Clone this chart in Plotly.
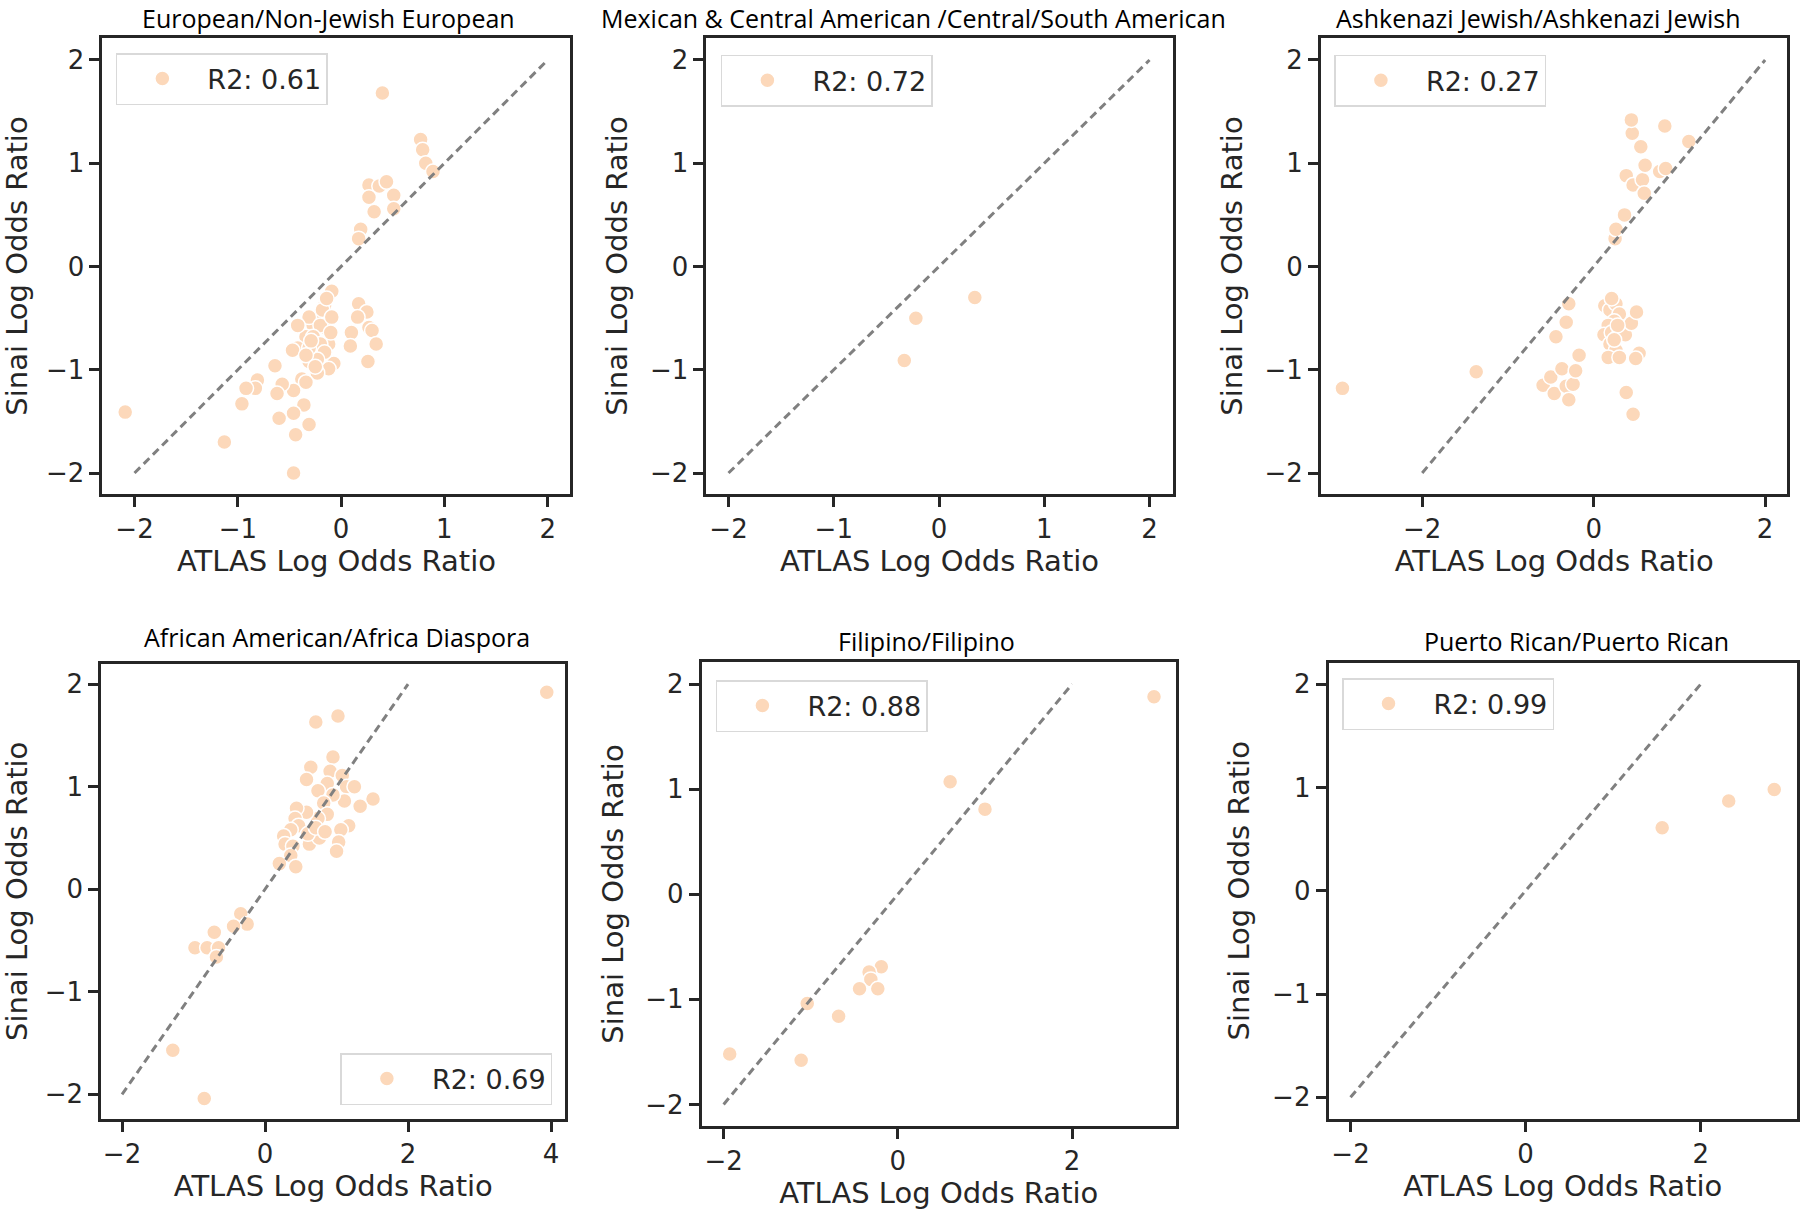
import plotly.graph_objects as go

# ---------------- data ----------------
panel_titles = [
    "European/Non-Jewish European",
    "Mexican & Central American /Central/South American",
    "Ashkenazi Jewish/Ashkenazi Jewish",
    "African American/Africa Diaspora",
    "Filipino/Filipino",
    "Puerto Rican/Puerto Rican",
]
r2_labels = ["R2: 0.61", "R2: 0.72", "R2: 0.27", "R2: 0.69", "R2: 0.88", "R2: 0.99"]
x_label = "ATLAS Log Odds Ratio"
y_label = "Sinai Log Odds Ratio"

eur_atlas = [-2.09, 0.40, 0.77, 0.79, 0.82, 0.89, 0.27, 0.37, 0.44, 0.27, 0.32, 0.51, 0.51, 0.19, 0.17,
             -0.09, -0.16, -0.23, -0.27, -0.34, -0.42, -0.47, -0.14, -0.12, -0.07, -0.12, -0.23, -0.31,
             -0.38, -0.46, -0.34, -0.36, -0.31, -0.46, -0.44, -0.46, -0.60, -0.57, -0.62, -0.64, -0.81,
             -0.83, -0.92, -0.96, -1.13, 0.17, 0.25, 0.16, 0.27, 0.30, 0.10, 0.09, 0.34, 0.26, -0.31,
             -0.20, -0.27, -0.20, -0.16, -0.23, -0.31, -0.34, -0.25, -0.18, -0.14, -0.09, -0.10, -0.42, -0.29]
eur_sinai = [-1.41, 1.68, 1.23, 1.13, 1.00, 0.92, 0.79, 0.78, 0.82, 0.67, 0.53, 0.69, 0.56, 0.36, 0.27,
             -0.24, -0.38, -0.49, -0.57, -0.68, -0.79, -0.81, -0.60, -0.75, -0.94, -0.99, -1.03, -0.92,
             -1.09, -1.20, -1.12, -1.34, -1.53, -1.42, -1.63, -2.00, -1.47, -1.14, -1.23, -0.96, -1.10,
             -1.18, -1.18, -1.33, -1.70, -0.36, -0.44, -0.49, -0.59, -0.62, -0.64, -0.77, -0.75, -0.92,
             -0.49, -0.57, -0.68, -0.75, -0.83, -0.90, -0.79, -0.86, -0.97, -0.42, -0.31, -0.49, -0.64,
             -0.57, -0.72]

mex_atlas = [0.34, -0.22, -0.33]
mex_sinai = [-0.30, -0.50, -0.91]

ash_atlas = [-2.93, -1.37, -0.59, -0.50, -0.46, -0.37, -0.32, -0.29, -0.24, -0.21, -0.17, -0.44, -0.32,
             -0.29, 0.13, 0.19, 0.26, 0.30, 0.24, 0.17, 0.12, 0.21, 0.28, 0.37, 0.19, 0.26, 0.17, 0.30,
             0.44, 0.50, 0.53, 0.49, 0.38, 0.46, 0.25, 0.26, 0.36, 0.38, 0.46, 0.57, 0.59, 0.60, 0.55,
             0.45, 0.44, 0.83, 0.77, 0.84, 1.11, 0.21, 0.28, 0.24]
ash_sinai = [-1.18, -1.02, -1.15, -1.07, -1.23, -0.99, -1.16, -1.29, -1.14, -1.01, -0.86, -0.68, -0.54,
             -0.36, -0.38, -0.42, -0.36, -0.46, -0.53, -0.57, -0.66, -0.64, -0.68, -0.66, -0.75, -0.81,
             -0.88, -0.88, -0.55, -0.44, -0.84, -0.89, -1.22, -1.43, 0.27, 0.36, 0.50, 0.88, 0.79, 0.84,
             0.71, 0.98, 1.16, 1.29, 1.42, 1.36, 0.92, 0.95, 1.21, -0.31, -0.57, -0.71]

afr_atlas = [3.94, 1.02, 0.71, 0.95, 0.64, 0.91, 0.58, 1.08, 0.87, 0.74, 1.14, 1.25, 1.51, 1.33, 1.11,
             0.95, 0.82, 0.87, 0.74, 0.58, 0.44, 0.42, 0.47, 0.36, 0.26, 0.28, 0.39, 0.36, 0.20, 0.43,
             0.62, 0.76, 0.60, 1.17, 1.06, 1.03, 1.00, 0.71, 0.84, -0.34, -0.25, -0.44, -0.71, -0.98,
             -0.81, -0.65, -0.68, -1.29, -0.85]
afr_sinai = [1.92, 1.69, 1.63, 1.29, 1.19, 1.15, 1.07, 1.11, 1.03, 0.96, 1.00, 1.00, 0.88, 0.81, 0.86,
             0.92, 0.84, 0.73, 0.69, 0.75, 0.79, 0.69, 0.62, 0.58, 0.52, 0.44, 0.42, 0.33, 0.25, 0.22,
             0.44, 0.50, 0.54, 0.62, 0.58, 0.46, 0.37, 0.60, 0.56, -0.24, -0.34, -0.36, -0.42, -0.57,
             -0.57, -0.57, -0.66, -1.57, -2.04]

fil_atlas = [2.94, 0.60, 1.00, -0.19, -0.33, -0.31, -0.44, -0.23, -1.04, -0.68, -1.93, -1.11]
fil_sinai = [1.88, 1.07, 0.81, -0.69, -0.74, -0.81, -0.90, -0.90, -1.04, -1.16, -1.52, -1.58]

pr_atlas = [1.56, 2.32, 2.84]
pr_sinai = [0.61, 0.87, 0.98]

identity_line = [-2, 2]

atlas_series = [eur_atlas, mex_atlas, ash_atlas, afr_atlas, fil_atlas, pr_atlas]
sinai_series = [eur_sinai, mex_sinai, ash_sinai, afr_sinai, fil_sinai, pr_sinai]

# ---------------- layout settings ----------------
W, H = 1800, 1212


def px_x(v):
    return v / W


def px_y(v):
    return 1 - v / H


# frame pixel boxes (left, right, top, bottom)
frames = [
    (102.6, 571.0, 38.3, 493.7),
    (707.2, 1174.0, 38.3, 493.7),
    (1322.5, 1789.4, 38.3, 493.7),
    (101.4, 566.0, 663.6, 1119.0),
    (702.6, 1177.1, 662.0, 1126.0),
    (1330.1, 1799.0, 662.5, 1119.0),
]
x_ranges = [[-2.31, 2.22], [-2.21, 2.22], [-3.18, 2.26], [-2.29, 4.20], [-2.25, 3.19], [-2.25, 3.10]]
y_ranges = [[-2.20, 2.21], [-2.20, 2.21], [-2.20, 2.21], [-2.24, 2.20], [-2.205, 2.21], [-2.21, 2.21]]
x_dticks = [1, 1, 2, 2, 2, 2]
# (center x, top y) of each panel title, in pixels
title_pos = [(329, 0), (915, 0), (1540, 0), (337, 619), (928, 623), (1578.5, 623)]
legend_pos = [
    dict(x=px_x(116), y=px_y(53), xanchor="left", yanchor="top"),
    dict(x=px_x(721.7), y=px_y(54.7), xanchor="left", yanchor="top"),
    dict(x=px_x(1335.9), y=px_y(54.7), xanchor="left", yanchor="top"),
    dict(x=px_x(553), y=px_y(1105), xanchor="right", yanchor="bottom"),
    dict(x=px_x(716.7), y=px_y(680), xanchor="left", yanchor="top"),
    dict(x=px_x(1343.5), y=px_y(678), xanchor="left", yanchor="top"),
]

POINT_COLOR = "#FCD8BA"
TEXT_COLOR = "#262626"
TICK_FONT = dict(family="DejaVu Sans", size=26, color=TEXT_COLOR)
LABEL_FONT = dict(family="DejaVu Sans", size=29, color=TEXT_COLOR)

fig = go.Figure()
layout = dict(
    width=W, height=H,
    margin=dict(l=0, r=0, t=0, b=0),
    paper_bgcolor="white", plot_bgcolor="white",
    annotations=[],
)

for i in range(6):
    n = i + 1
    xa = "x" if n == 1 else f"x{n}"
    ya = "y" if n == 1 else f"y{n}"
    leg = "legend" if n == 1 else f"legend{n}"
    fig.add_trace(go.Scatter(
        x=atlas_series[i], y=sinai_series[i], mode="markers",
        name=r2_labels[i], xaxis=xa, yaxis=ya, legend=leg,
        marker=dict(size=15, color=POINT_COLOR, line=dict(color="white", width=1.5)),
        hoverinfo="x+y",
    ))
    fig.add_trace(go.Scatter(
        x=identity_line, y=identity_line, mode="lines", showlegend=False,
        xaxis=xa, yaxis=ya, hoverinfo="skip",
        line=dict(color="#808080", width=3, dash="8px,5px"),
    ))
    l, r, t, b = frames[i]
    axis_common = dict(
        showgrid=False, zeroline=False, showline=True, mirror=True,
        linecolor=TEXT_COLOR, linewidth=3, ticks="outside", ticklen=10,
        tickwidth=2.5, tickcolor=TEXT_COLOR, tickfont=TICK_FONT, tick0=0,
    )
    layout["xaxis" if n == 1 else f"xaxis{n}"] = dict(
        axis_common, domain=[px_x(l), px_x(r)], range=x_ranges[i], dtick=x_dticks[i],
        anchor=ya, title=dict(text=x_label, font=LABEL_FONT, standoff=6),
    )
    layout["yaxis" if n == 1 else f"yaxis{n}"] = dict(
        axis_common, domain=[px_y(b), px_y(t)], range=y_ranges[i], dtick=1,
        anchor=xa, title=dict(text=y_label, font=LABEL_FONT, standoff=14),
    )
    layout[leg] = dict(
        legend_pos[i], bgcolor="white", bordercolor="#d9d9d9", borderwidth=1.5,
        font=dict(family="DejaVu Sans", size=27, color=TEXT_COLOR), itemwidth=80,
    )
    tx, ty = title_pos[i]
    layout["annotations"].append(dict(
        text=panel_titles[i], x=px_x(tx), y=px_y(ty), xref="paper", yref="paper",
        xanchor="center", yanchor="top", showarrow=False, borderpad=0,
        font=dict(family="Open Sans", size=25, color="black"),
    ))

fig.update_layout(**layout)
fig.write_html(
    "out.html",
    config={"displayModeBar": False},
    post_script="document.body.style.margin = '0px';",
)
